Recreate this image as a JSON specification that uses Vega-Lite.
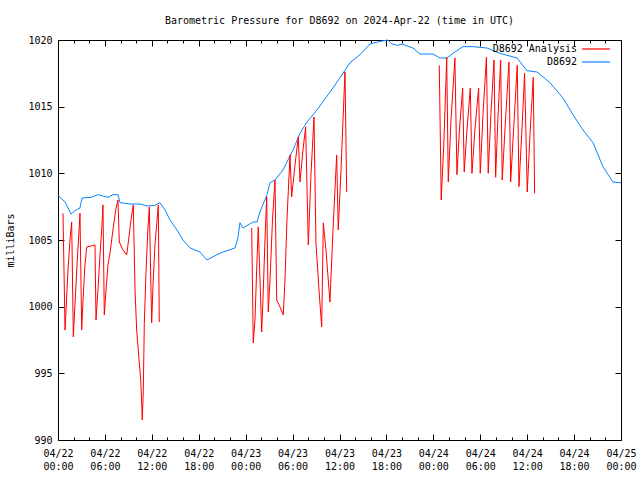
{
  "$schema": "https://vega.github.io/schema/vega-lite/v6.json",
  "width": 563,
  "height": 400,
  "autosize": {"type": "none"},
  "padding": {"left": 58, "top": 40, "right": 19, "bottom": 40},
  "background": "white",
  "title": {"text": "Barometric Pressure for D8692 on 2024-Apr-22 (time in UTC)", "font": "DejaVu Sans Mono", "fontSize": 10, "fontWeight": "normal", "color": "black", "offset": 9, "anchor": "middle"},
  "config": {
    "view": {"stroke": "black", "strokeWidth": 1},
    "axis": {"labelFont": "DejaVu Sans Mono", "labelFontSize": 10, "titleFont": "DejaVu Sans Mono", "titleFontSize": 10, "titleFontWeight": "normal", "domain": false, "grid": false, "tickColor": "black", "labelColor": "black", "titleColor": "black"},
    "legend": {"labelFont": "DejaVu Sans Mono", "labelFontSize": 10, "labelColor": "black"}
  },
  "data": {"values": [
    {"series":"D8692","seg":0,"hour":0,"mbar":1008.4},
    {"series":"D8692","seg":0,"hour":0.25,"mbar":1008.2},
    {"series":"D8692","seg":0,"hour":0.9,"mbar":1007.85},
    {"series":"D8692","seg":0,"hour":1.66,"mbar":1006.95},
    {"series":"D8692","seg":0,"hour":2.31,"mbar":1007.25},
    {"series":"D8692","seg":0,"hour":2.81,"mbar":1007.4},
    {"series":"D8692","seg":0,"hour":3.07,"mbar":1008.15},
    {"series":"D8692","seg":0,"hour":4.22,"mbar":1008.2},
    {"series":"D8692","seg":0,"hour":5.12,"mbar":1008.4},
    {"series":"D8692","seg":0,"hour":6.39,"mbar":1008.2},
    {"series":"D8692","seg":0,"hour":7.03,"mbar":1008.4},
    {"series":"D8692","seg":0,"hour":7.67,"mbar":1008.4},
    {"series":"D8692","seg":0,"hour":7.93,"mbar":1007.8},
    {"series":"D8692","seg":0,"hour":9.2,"mbar":1007.7},
    {"series":"D8692","seg":0,"hour":10.48,"mbar":1007.7},
    {"series":"D8692","seg":0,"hour":11.38,"mbar":1007.55},
    {"series":"D8692","seg":0,"hour":12.41,"mbar":1007.6},
    {"series":"D8692","seg":0,"hour":13.04,"mbar":1007.8},
    {"series":"D8692","seg":0,"hour":13.69,"mbar":1007.25},
    {"series":"D8692","seg":0,"hour":14.32,"mbar":1006.5},
    {"series":"D8692","seg":0,"hour":15.22,"mbar":1005.75},
    {"series":"D8692","seg":0,"hour":15.98,"mbar":1005.0},
    {"series":"D8692","seg":0,"hour":16.88,"mbar":1004.4},
    {"series":"D8692","seg":0,"hour":18.16,"mbar":1004.1},
    {"series":"D8692","seg":0,"hour":19.05,"mbar":1003.5},
    {"series":"D8692","seg":0,"hour":20.33,"mbar":1003.9},
    {"series":"D8692","seg":0,"hour":21.1,"mbar":1004.1},
    {"series":"D8692","seg":0,"hour":22.64,"mbar":1004.4},
    {"series":"D8692","seg":0,"hour":23.02,"mbar":1005.2},
    {"series":"D8692","seg":0,"hour":23.27,"mbar":1006.3},
    {"series":"D8692","seg":0,"hour":23.65,"mbar":1005.9},
    {"series":"D8692","seg":0,"hour":24.93,"mbar":1006.35},
    {"series":"D8692","seg":0,"hour":25.45,"mbar":1006.35},
    {"series":"D8692","seg":0,"hour":25.83,"mbar":1007.1},
    {"series":"D8692","seg":0,"hour":26.73,"mbar":1008.4},
    {"series":"D8692","seg":0,"hour":27.11,"mbar":1009.3},
    {"series":"D8692","seg":0,"hour":27.75,"mbar":1009.5},
    {"series":"D8692","seg":0,"hour":28.77,"mbar":1010.25},
    {"series":"D8692","seg":0,"hour":30.05,"mbar":1011.75},
    {"series":"D8692","seg":0,"hour":30.95,"mbar":1013.0},
    {"series":"D8692","seg":0,"hour":31.84,"mbar":1013.85},
    {"series":"D8692","seg":0,"hour":33.12,"mbar":1014.75},
    {"series":"D8692","seg":0,"hour":35.16,"mbar":1016.4},
    {"series":"D8692","seg":0,"hour":36.44,"mbar":1017.5},
    {"series":"D8692","seg":0,"hour":37.34,"mbar":1018.3},
    {"series":"D8692","seg":0,"hour":38.62,"mbar":1018.9},
    {"series":"D8692","seg":0,"hour":39.9,"mbar":1019.7},
    {"series":"D8692","seg":0,"hour":41.18,"mbar":1019.9},
    {"series":"D8692","seg":0,"hour":42.19,"mbar":1020.0},
    {"series":"D8692","seg":0,"hour":42.71,"mbar":1019.7},
    {"series":"D8692","seg":0,"hour":43.47,"mbar":1019.6},
    {"series":"D8692","seg":0,"hour":43.99,"mbar":1019.7},
    {"series":"D8692","seg":0,"hour":45.4,"mbar":1019.4},
    {"series":"D8692","seg":0,"hour":46.29,"mbar":1018.95},
    {"series":"D8692","seg":0,"hour":47.95,"mbar":1018.95},
    {"series":"D8692","seg":0,"hour":48.85,"mbar":1018.65},
    {"series":"D8692","seg":0,"hour":49.75,"mbar":1018.65},
    {"series":"D8692","seg":0,"hour":50.51,"mbar":1019.0},
    {"series":"D8692","seg":0,"hour":51.79,"mbar":1019.5},
    {"series":"D8692","seg":0,"hour":53.07,"mbar":1019.5},
    {"series":"D8692","seg":0,"hour":54.86,"mbar":1019.4},
    {"series":"D8692","seg":0,"hour":56.52,"mbar":1019.0},
    {"series":"D8692","seg":0,"hour":58.7,"mbar":1018.65},
    {"series":"D8692","seg":0,"hour":59.98,"mbar":1017.7},
    {"series":"D8692","seg":0,"hour":61.26,"mbar":1017.6},
    {"series":"D8692","seg":0,"hour":62.92,"mbar":1016.8},
    {"series":"D8692","seg":0,"hour":64.58,"mbar":1015.65},
    {"series":"D8692","seg":0,"hour":65.86,"mbar":1014.4},
    {"series":"D8692","seg":0,"hour":67.14,"mbar":1013.25},
    {"series":"D8692","seg":0,"hour":68.42,"mbar":1012.3},
    {"series":"D8692","seg":0,"hour":69.69,"mbar":1010.5},
    {"series":"D8692","seg":0,"hour":70.97,"mbar":1009.35},
    {"series":"D8692","seg":0,"hour":71.87,"mbar":1009.3},
    {"series":"D8692","seg":0,"hour":72,"mbar":1009.3},

    {"series":"D8692 Analysis","seg":1,"hour":0.64,"mbar":1007.0},
    {"series":"D8692 Analysis","seg":1,"hour":0.9,"mbar":998.25},
    {"series":"D8692 Analysis","seg":1,"hour":1.09,"mbar":1000.5},
    {"series":"D8692 Analysis","seg":1,"hour":1.28,"mbar":1002.75},
    {"series":"D8692 Analysis","seg":1,"hour":1.53,"mbar":1005.0},
    {"series":"D8692 Analysis","seg":1,"hour":1.75,"mbar":1006.35},
    {"series":"D8692 Analysis","seg":1,"hour":1.96,"mbar":997.73},
    {"series":"D8692 Analysis","seg":1,"hour":2.17,"mbar":1000.13},
    {"series":"D8692 Analysis","seg":1,"hour":2.43,"mbar":1003.13},
    {"series":"D8692 Analysis","seg":1,"hour":2.69,"mbar":1005.75},
    {"series":"D8692 Analysis","seg":1,"hour":2.81,"mbar":1007.0},
    {"series":"D8692 Analysis","seg":1,"hour":3.03,"mbar":998.25},
    {"series":"D8692 Analysis","seg":1,"hour":3.2,"mbar":1000.5},
    {"series":"D8692 Analysis","seg":1,"hour":3.45,"mbar":1003.13},
    {"series":"D8692 Analysis","seg":1,"hour":3.67,"mbar":1004.48},
    {"series":"D8692 Analysis","seg":1,"hour":4.22,"mbar":1004.55},
    {"series":"D8692 Analysis","seg":1,"hour":4.73,"mbar":1004.63},
    {"series":"D8692 Analysis","seg":1,"hour":4.86,"mbar":999.0},
    {"series":"D8692 Analysis","seg":1,"hour":5.11,"mbar":1001.25},
    {"series":"D8692 Analysis","seg":1,"hour":5.37,"mbar":1003.88},
    {"series":"D8692 Analysis","seg":1,"hour":5.63,"mbar":1006.13},
    {"series":"D8692 Analysis","seg":1,"hour":5.75,"mbar":1007.63},
    {"series":"D8692 Analysis","seg":1,"hour":5.92,"mbar":999.38},
    {"series":"D8692 Analysis","seg":1,"hour":6.14,"mbar":1001.25},
    {"series":"D8692 Analysis","seg":1,"hour":6.39,"mbar":1003.13},
    {"series":"D8692 Analysis","seg":1,"hour":6.65,"mbar":1004.03},
    {"series":"D8692 Analysis","seg":1,"hour":7.03,"mbar":1005.75},
    {"series":"D8692 Analysis","seg":1,"hour":7.42,"mbar":1007.4},
    {"series":"D8692 Analysis","seg":1,"hour":7.67,"mbar":1008.0},
    {"series":"D8692 Analysis","seg":1,"hour":7.84,"mbar":1004.85},
    {"series":"D8692 Analysis","seg":1,"hour":8.31,"mbar":1004.25},
    {"series":"D8692 Analysis","seg":1,"hour":8.79,"mbar":1003.88},
    {"series":"D8692 Analysis","seg":1,"hour":8.95,"mbar":1004.63},
    {"series":"D8692 Analysis","seg":1,"hour":9.33,"mbar":1006.5},
    {"series":"D8692 Analysis","seg":1,"hour":9.63,"mbar":1007.63},
    {"series":"D8692 Analysis","seg":1,"hour":9.85,"mbar":1001.25},
    {"series":"D8692 Analysis","seg":1,"hour":10.06,"mbar":998.25},
    {"series":"D8692 Analysis","seg":1,"hour":10.4,"mbar":995.78},
    {"series":"D8692 Analysis","seg":1,"hour":10.58,"mbar":994.5},
    {"series":"D8692 Analysis","seg":1,"hour":10.7,"mbar":992.78},
    {"series":"D8692 Analysis","seg":1,"hour":10.78,"mbar":991.5},
    {"series":"D8692 Analysis","seg":1,"hour":10.91,"mbar":993.75},
    {"series":"D8692 Analysis","seg":1,"hour":11.04,"mbar":998.78},
    {"series":"D8692 Analysis","seg":1,"hour":11.25,"mbar":1002.53},
    {"series":"D8692 Analysis","seg":1,"hour":11.47,"mbar":1005.53},
    {"series":"D8692 Analysis","seg":1,"hour":11.68,"mbar":1007.48},
    {"series":"D8692 Analysis","seg":1,"hour":11.98,"mbar":998.78},
    {"series":"D8692 Analysis","seg":1,"hour":12.15,"mbar":1001.63},
    {"series":"D8692 Analysis","seg":1,"hour":12.4,"mbar":1004.63},
    {"series":"D8692 Analysis","seg":1,"hour":12.83,"mbar":1007.63},
    {"series":"D8692 Analysis","seg":1,"hour":12.95,"mbar":998.85},

    {"series":"D8692 Analysis","seg":2,"hour":24.77,"mbar":1005.9},
    {"series":"D8692 Analysis","seg":2,"hour":24.97,"mbar":997.28},
    {"series":"D8692 Analysis","seg":2,"hour":25.19,"mbar":999.0},
    {"series":"D8692 Analysis","seg":2,"hour":25.45,"mbar":1003.5},
    {"series":"D8692 Analysis","seg":2,"hour":25.61,"mbar":1005.98},
    {"series":"D8692 Analysis","seg":2,"hour":26.05,"mbar":998.1},
    {"series":"D8692 Analysis","seg":2,"hour":26.21,"mbar":1000.5},
    {"series":"D8692 Analysis","seg":2,"hour":26.47,"mbar":1005.0},
    {"series":"D8692 Analysis","seg":2,"hour":26.69,"mbar":1008.23},
    {"series":"D8692 Analysis","seg":2,"hour":26.89,"mbar":999.6},
    {"series":"D8692 Analysis","seg":2,"hour":27.11,"mbar":1002.0},
    {"series":"D8692 Analysis","seg":2,"hour":27.43,"mbar":1006.5},
    {"series":"D8692 Analysis","seg":2,"hour":27.75,"mbar":1009.5},
    {"series":"D8692 Analysis","seg":2,"hour":27.97,"mbar":1000.5},
    {"series":"D8692 Analysis","seg":2,"hour":28.39,"mbar":999.98},
    {"series":"D8692 Analysis","seg":2,"hour":28.81,"mbar":999.38},
    {"series":"D8692 Analysis","seg":2,"hour":29.03,"mbar":1002.0},
    {"series":"D8692 Analysis","seg":2,"hour":29.28,"mbar":1006.5},
    {"series":"D8692 Analysis","seg":2,"hour":29.67,"mbar":1011.38},
    {"series":"D8692 Analysis","seg":2,"hour":29.88,"mbar":1008.23},
    {"series":"D8692 Analysis","seg":2,"hour":30.31,"mbar":1010.63},
    {"series":"D8692 Analysis","seg":2,"hour":30.73,"mbar":1012.73},
    {"series":"D8692 Analysis","seg":2,"hour":30.95,"mbar":1009.35},
    {"series":"D8692 Analysis","seg":2,"hour":31.33,"mbar":1011.75},
    {"series":"D8692 Analysis","seg":2,"hour":31.67,"mbar":1013.48},
    {"series":"D8692 Analysis","seg":2,"hour":32.01,"mbar":1004.63},
    {"series":"D8692 Analysis","seg":2,"hour":32.35,"mbar":1009.88},
    {"series":"D8692 Analysis","seg":2,"hour":32.74,"mbar":1014.23},
    {"series":"D8692 Analysis","seg":2,"hour":32.99,"mbar":1004.78},
    {"series":"D8692 Analysis","seg":2,"hour":33.38,"mbar":1001.25},
    {"series":"D8692 Analysis","seg":2,"hour":33.72,"mbar":998.48},
    {"series":"D8692 Analysis","seg":2,"hour":33.93,"mbar":1006.28},
    {"series":"D8692 Analysis","seg":2,"hour":34.27,"mbar":1004.25},
    {"series":"D8692 Analysis","seg":2,"hour":34.78,"mbar":1000.35},
    {"series":"D8692 Analysis","seg":2,"hour":35.17,"mbar":1005.75},
    {"series":"D8692 Analysis","seg":2,"hour":35.64,"mbar":1011.38},
    {"series":"D8692 Analysis","seg":2,"hour":35.84,"mbar":1005.75},
    {"series":"D8692 Analysis","seg":2,"hour":36.19,"mbar":1010.25},
    {"series":"D8692 Analysis","seg":2,"hour":36.7,"mbar":1017.6},
    {"series":"D8692 Analysis","seg":2,"hour":36.92,"mbar":1008.6},

    {"series":"D8692 Analysis","seg":3,"hour":48.76,"mbar":1018.1},
    {"series":"D8692 Analysis","seg":3,"hour":49.01,"mbar":1008.0},
    {"series":"D8692 Analysis","seg":3,"hour":49.36,"mbar":1012.5},
    {"series":"D8692 Analysis","seg":3,"hour":49.71,"mbar":1018.7},
    {"series":"D8692 Analysis","seg":3,"hour":49.91,"mbar":1009.35},
    {"series":"D8692 Analysis","seg":3,"hour":50.26,"mbar":1014.0},
    {"series":"D8692 Analysis","seg":3,"hour":50.76,"mbar":1018.65},
    {"series":"D8692 Analysis","seg":3,"hour":51.02,"mbar":1009.9},
    {"series":"D8692 Analysis","seg":3,"hour":51.34,"mbar":1013.25},
    {"series":"D8692 Analysis","seg":3,"hour":51.75,"mbar":1016.4},
    {"series":"D8692 Analysis","seg":3,"hour":51.95,"mbar":1010.1},
    {"series":"D8692 Analysis","seg":3,"hour":52.3,"mbar":1013.25},
    {"series":"D8692 Analysis","seg":3,"hour":52.73,"mbar":1016.4},
    {"series":"D8692 Analysis","seg":3,"hour":52.94,"mbar":1010.0},
    {"series":"D8692 Analysis","seg":3,"hour":53.32,"mbar":1013.25},
    {"series":"D8692 Analysis","seg":3,"hour":53.79,"mbar":1016.4},
    {"series":"D8692 Analysis","seg":3,"hour":54.0,"mbar":1010.0},
    {"series":"D8692 Analysis","seg":3,"hour":54.35,"mbar":1014.4},
    {"series":"D8692 Analysis","seg":3,"hour":54.79,"mbar":1018.7},
    {"series":"D8692 Analysis","seg":3,"hour":55.02,"mbar":1010.0},
    {"series":"D8692 Analysis","seg":3,"hour":55.36,"mbar":1014.4},
    {"series":"D8692 Analysis","seg":3,"hour":55.76,"mbar":1018.5},
    {"series":"D8692 Analysis","seg":3,"hour":55.97,"mbar":1009.7},
    {"series":"D8692 Analysis","seg":3,"hour":56.26,"mbar":1014.15},
    {"series":"D8692 Analysis","seg":3,"hour":56.61,"mbar":1018.5},
    {"series":"D8692 Analysis","seg":3,"hour":56.81,"mbar":1009.5},
    {"series":"D8692 Analysis","seg":3,"hour":57.23,"mbar":1014.0},
    {"series":"D8692 Analysis","seg":3,"hour":57.67,"mbar":1018.35},
    {"series":"D8692 Analysis","seg":3,"hour":57.89,"mbar":1009.35},
    {"series":"D8692 Analysis","seg":3,"hour":58.32,"mbar":1013.85},
    {"series":"D8692 Analysis","seg":3,"hour":58.73,"mbar":1018.1},
    {"series":"D8692 Analysis","seg":3,"hour":58.95,"mbar":1009.0},
    {"series":"D8692 Analysis","seg":3,"hour":59.33,"mbar":1013.25},
    {"series":"D8692 Analysis","seg":3,"hour":59.67,"mbar":1017.5},
    {"series":"D8692 Analysis","seg":3,"hour":60.01,"mbar":1008.6},
    {"series":"D8692 Analysis","seg":3,"hour":60.36,"mbar":1012.9},
    {"series":"D8692 Analysis","seg":3,"hour":60.78,"mbar":1017.2},
    {"series":"D8692 Analysis","seg":3,"hour":60.95,"mbar":1008.5}
  ]},
  "layer": [
    {
      "mark": {"type": "line", "strokeWidth": 1},
      "encoding": {
        "x": {"field": "hour", "type": "quantitative", "scale": {"domain": [0, 72], "nice": false, "zero": false},
          "axis": {"orient": "bottom", "title": null, "values": [0, 6, 12, 18, 24, 30, 36, 42, 48, 54, 60, 66, 72], "tickSize": -6, "labelPadding": 14, "labelLineHeight": 13, "labelFlush": false,
            "labelExpr": "['04/' + (22 + floor(datum.value / 24)), (datum.value % 24 < 10 ? '0' : '') + (datum.value % 24) + ':00']"}},
        "y": {"field": "mbar", "type": "quantitative", "scale": {"domain": [990, 1020], "nice": false, "zero": false},
          "axis": {"orient": "left", "title": "milliBars", "format": "d", "values": [990, 995, 1000, 1005, 1010, 1015, 1020], "tickSize": -6, "labelPadding": 12, "titlePadding": 12}},
        "color": {"field": "series", "type": "nominal", "sort": ["D8692 Analysis", "D8692"],
          "scale": {"domain": ["D8692 Analysis", "D8692"], "range": ["#ff0000", "#0a84ff"]},
          "legend": {"title": null, "orient": "none", "legendX": 530, "legendY": 1, "symbolType": "M-2,0H2", "symbolSize": 196, "symbolStrokeWidth": 1.2, "labelAlign": "right", "labelOffset": -27, "rowPadding": 0, "padding": 0}},
        "detail": {"field": "seg", "type": "nominal"}
      }
    },
    {
      "mark": {"type": "line", "strokeOpacity": 0},
      "encoding": {
        "x": {"field": "hour", "type": "quantitative", "axis": {"orient": "top", "title": null, "labels": false, "values": [0, 6, 12, 18, 24, 30, 36, 42, 48, 54, 60, 66, 72], "tickSize": -6}},
        "y": {"field": "mbar", "type": "quantitative", "axis": {"orient": "right", "title": null, "labels": false, "values": [990, 995, 1000, 1005, 1010, 1015, 1020], "tickSize": -6}},
        "detail": {"field": "seg", "type": "nominal"}
      }
    },
    {
      "mark": {"type": "line", "strokeOpacity": 0},
      "encoding": {
        "x": {"field": "hour", "type": "quantitative", "axis": {"orient": "bottom", "title": null, "labels": false, "values": [2, 4, 8, 10, 14, 16, 20, 22, 26, 28, 32, 34, 38, 40, 44, 46, 50, 52, 56, 58, 62, 64, 68, 70], "tickSize": -3}},
        "y": {"field": "mbar", "type": "quantitative", "axis": null},
        "detail": {"field": "seg", "type": "nominal"}
      }
    },
    {
      "mark": {"type": "line", "strokeOpacity": 0},
      "encoding": {
        "x": {"field": "hour", "type": "quantitative", "axis": {"orient": "top", "title": null, "labels": false, "values": [2, 4, 8, 10, 14, 16, 20, 22, 26, 28, 32, 34, 38, 40, 44, 46, 50, 52, 56, 58, 62, 64, 68, 70], "tickSize": -3}},
        "y": {"field": "mbar", "type": "quantitative", "axis": null},
        "detail": {"field": "seg", "type": "nominal"}
      }
    }
  ],
  "resolve": {"axis": {"x": "independent", "y": "independent"}}
}
